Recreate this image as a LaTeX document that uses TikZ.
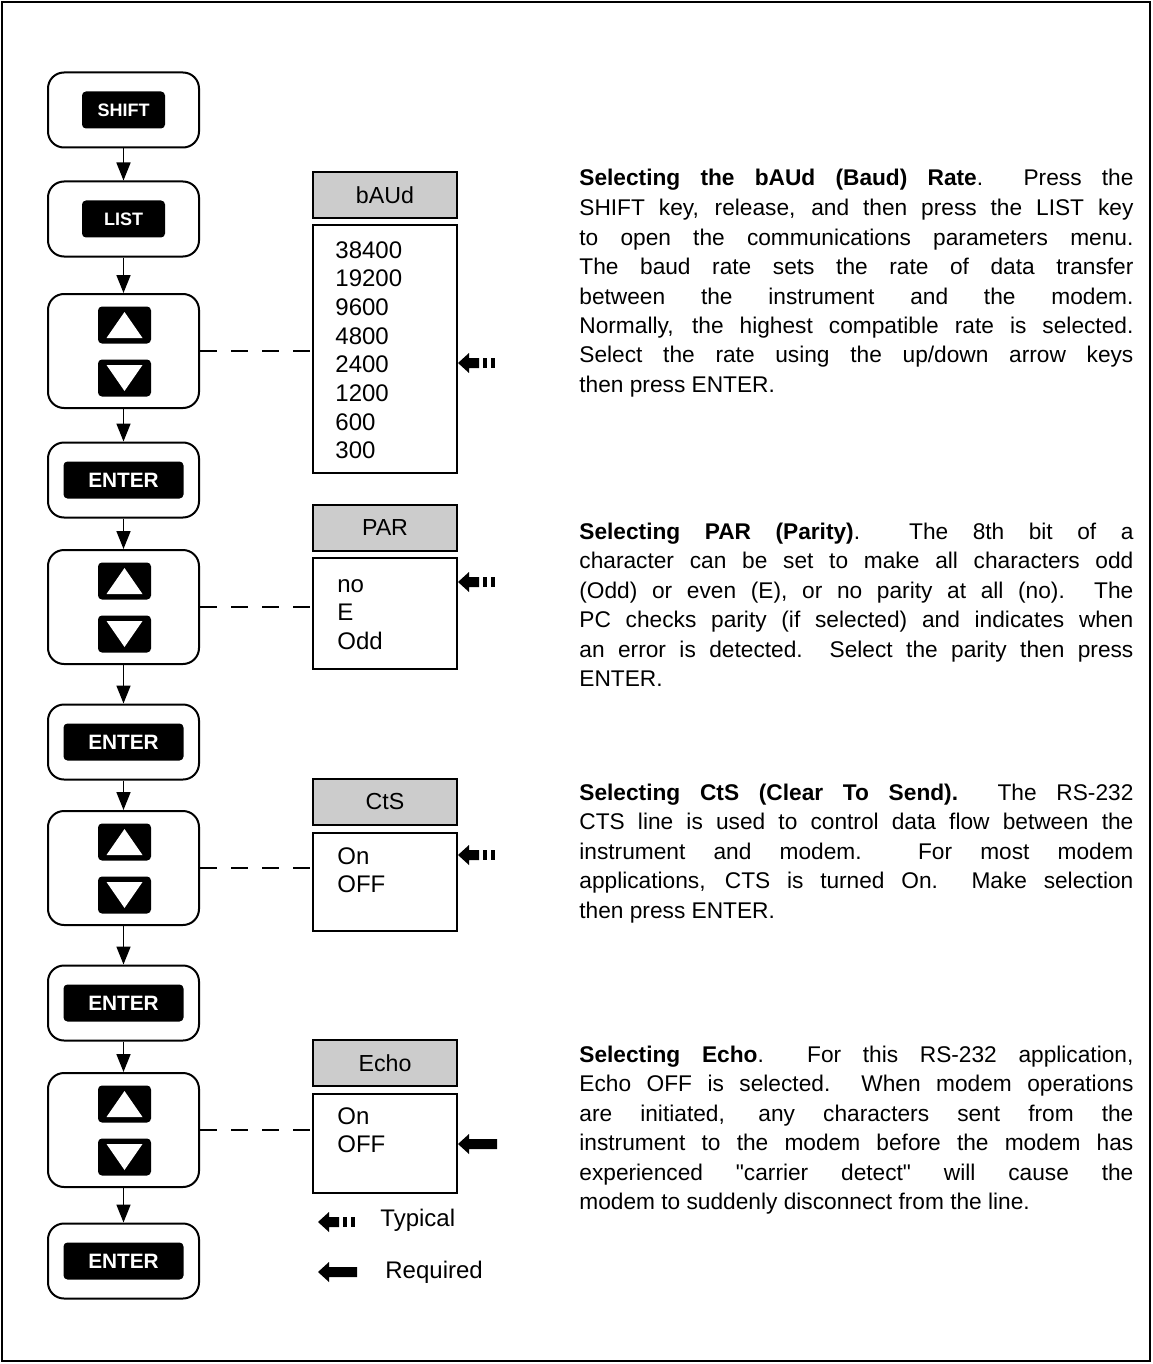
\documentclass[tikz,border=0pt]{standalone}
\usepackage{fontspec}
\setmainfont{Liberation Sans}[Ligatures=TeXOff]
\usetikzlibrary{arrows.meta,calc}
\begin{document}
\begin{tikzpicture}[x=0.5pt,y=-0.5pt,
  outerbox/.style={draw, line width=1pt, rounded corners=8pt, minimum width=75.5pt, inner sep=0pt},
  keybox/.style={outerbox, minimum height=37.5pt},
  udbox/.style={outerbox, minimum height=57pt},
  keycap/.style={fill=black, text=white, rounded corners=2pt, minimum height=18.5pt, inner sep=0pt},
  smallkey/.style={keycap, minimum width=41.5pt, font=\bfseries\fontsize{9}{10}\selectfont},
  enterkey/.style={keycap, minimum width=60pt, font=\bfseries\fontsize{10.4}{12}\selectfont},
  arrowkey/.style={keycap, minimum width=26.5pt},
  flow/.style={line width=0.8pt, -{Triangle[length=9pt,width=7pt]}},
  link/.style={line width=0.8pt, dash pattern=on 8.5pt off 7pt},
  headbox/.style={draw, line width=1pt, fill=black!20, minimum width=72pt, minimum height=23pt, inner sep=0pt, font=\fontsize{11.6}{13}\selectfont},
  listbox/.style={draw, line width=1pt, minimum width=72pt, inner sep=0pt},
  items/.style={anchor=base west, inner sep=0pt, font=\fontsize{12}{14.35}\selectfont},
  para/.style={anchor=base west, inner sep=0pt, font=\fontsize{11.35}{14.75}\selectfont},
  legend/.style={anchor=west, inner sep=0pt, font=\fontsize{12}{14}\selectfont},
  typarrow/.pic={\fill (0,0) -- (11,-10) -- (11,-5) -- (21,-5) -- (21,5) -- (11,5) -- (11,10) -- cycle;
                 \fill (25,-5) rectangle (29,5); \fill (33,-5) rectangle (37,5);},
  reqarrow/.pic={\fill (0,0) -- (11,-10) -- (11,-5) -- (39,-5) -- (39,5) -- (11,5) -- (11,10) -- cycle;}
]
\useasboundingbox (0,0) rectangle (1152,1364);
\draw[line width=1pt] (2,2) rectangle (1150,1361);

% left column
\node[keybox] (shift) at (123.5,110) {};
\node[smallkey] (kshift) at (shift) {SHIFT};
\node[keybox] (list) at (123.5,219) {};
\node[smallkey] (klist) at (list) {LIST};

\foreach \n/\y in {1/351,2/607,3/868,4/1130}{
  \node[udbox] (ud\n) at (123.5,\y) {};
  \node[arrowkey] (up\n) at ($(ud\n.center)+(1,-26)$) {};
  \node[arrowkey] (dn\n) at ($(ud\n.center)+(1,27)$) {};
  \fill[white] ($(up\n.center)+(-18,13)$) -- ($(up\n.center)+(18,13)$) -- ($(up\n.center)+(0,-13)$) -- cycle;
  \fill[white] ($(dn\n.center)+(-18,-13)$) -- ($(dn\n.center)+(18,-13)$) -- ($(dn\n.center)+(0,13)$) -- cycle;
}
\foreach \n/\y in {1/480,2/742,3/1003,4/1261}{
  \node[keybox] (ent\n) at (123.5,\y) {};
  \node[enterkey] (kent\n) at (ent\n) {ENTER};
}

\draw[flow] (shift) -- (list);
\draw[flow] (list) -- (ud1);
\draw[flow] (ud1) -- (ent1);
\draw[flow] (ent1) -- (ud2);
\draw[flow] (ud2) -- (ent2);
\draw[flow] (ent2) -- (ud3);
\draw[flow] (ud3) -- (ent3);
\draw[flow] (ent3) -- (ud4);
\draw[flow] (ud4) -- (ent4);

% menus
\node[headbox] (hbaud) at (385,195) {bAUd};
\node[listbox, minimum height=124pt] (lbaud) at (385,349) {};
\node[items] (tbaud) at (335,258) {\parbox[t]{60pt}{38400\\19200\\9600\\4800\\2400\\1200\\600\\300}};

\node[headbox] (hpar) at (385,528) {PAR};
\node[listbox, minimum height=55.5pt] (lpar) at (385,613.5) {};
\node[items] (tpar) at (337,592) {\parbox[t]{60pt}{no\\E\\Odd}};

\node[headbox] (hcts) at (385,802) {CtS};
\node[listbox, minimum height=49pt] (lcts) at (385,882) {};
\node[items] (tcts) at (337,864) {\parbox[t]{60pt}{On\\OFF}};

\node[headbox] (hecho) at (385,1063) {Echo};
\node[listbox, minimum height=49.5pt] (lecho) at (385,1143) {};
\node[items] (techo) at (337,1124) {\parbox[t]{60pt}{On\\OFF}};

\draw[link] (ud1.east) -- (ud1.east -| lbaud.west);
\draw[link] (ud2.east) -- (ud2.east -| lpar.west);
\draw[link] (ud3.east) -- (ud3.east -| lcts.west);
\draw[link] (ud4.east) -- (ud4.east -| lecho.west);

\pic at (458,363) {typarrow};
\pic at (458,582) {typarrow};
\pic at (458,855) {typarrow};
\pic at (458,1144) {reqarrow};

% legend
\pic at (318,1222) {typarrow};
\node[legend] (ltyp) at (380,1220) {Typical};
\pic at (318,1272) {reqarrow};
\node[legend] (lreq) at (385,1272) {Required};

% paragraphs
\node[para] (p1) at (579,186) {\parbox[t]{277pt}{\hfuzz=20pt
\textbf{Selecting the bAUd (Baud) Rate}.\ \ Press the\linebreak
SHIFT key, release, and then press the LIST key\linebreak
to open the communications parameters menu.\linebreak
The baud rate sets the rate of data transfer\linebreak
between the instrument and the modem.\linebreak
Normally, the highest compatible rate is selected.\linebreak
Select the rate using the up/down arrow keys\linebreak
then press ENTER.}};

\node[para] (p2) at (579,539) {\parbox[t]{277pt}{\hfuzz=20pt
\textbf{Selecting PAR (Parity)}.\ \ The 8th bit of a\linebreak
character can be set to make all characters odd\linebreak
(Odd) or even (E), or no parity at all (no).\ \ The\linebreak
PC checks parity (if selected) and indicates when\linebreak
an error is detected.\ \ Select the parity then press\linebreak
ENTER.}};

\node[para] (p3) at (579,800) {\parbox[t]{277pt}{\hfuzz=20pt
\textbf{Selecting CtS (Clear To Send).}\ \ The RS-232\linebreak
CTS line is used to control data flow between the\linebreak
instrument and modem.\ \ For most modem\linebreak
applications, CTS is turned On.\ \ Make selection\linebreak
then press ENTER.}};

\node[para] (p4) at (579,1062) {\parbox[t]{277pt}{\hfuzz=20pt
\textbf{Selecting Echo}.\ \ For this RS-232 application,\linebreak
Echo OFF is selected.\ \ When modem operations\linebreak
are initiated, any characters sent from the\linebreak
instrument to the modem before the modem has\linebreak
experienced "carrier detect" will cause the\linebreak
modem to suddenly disconnect from the line.}};
\end{tikzpicture}
\end{document}
